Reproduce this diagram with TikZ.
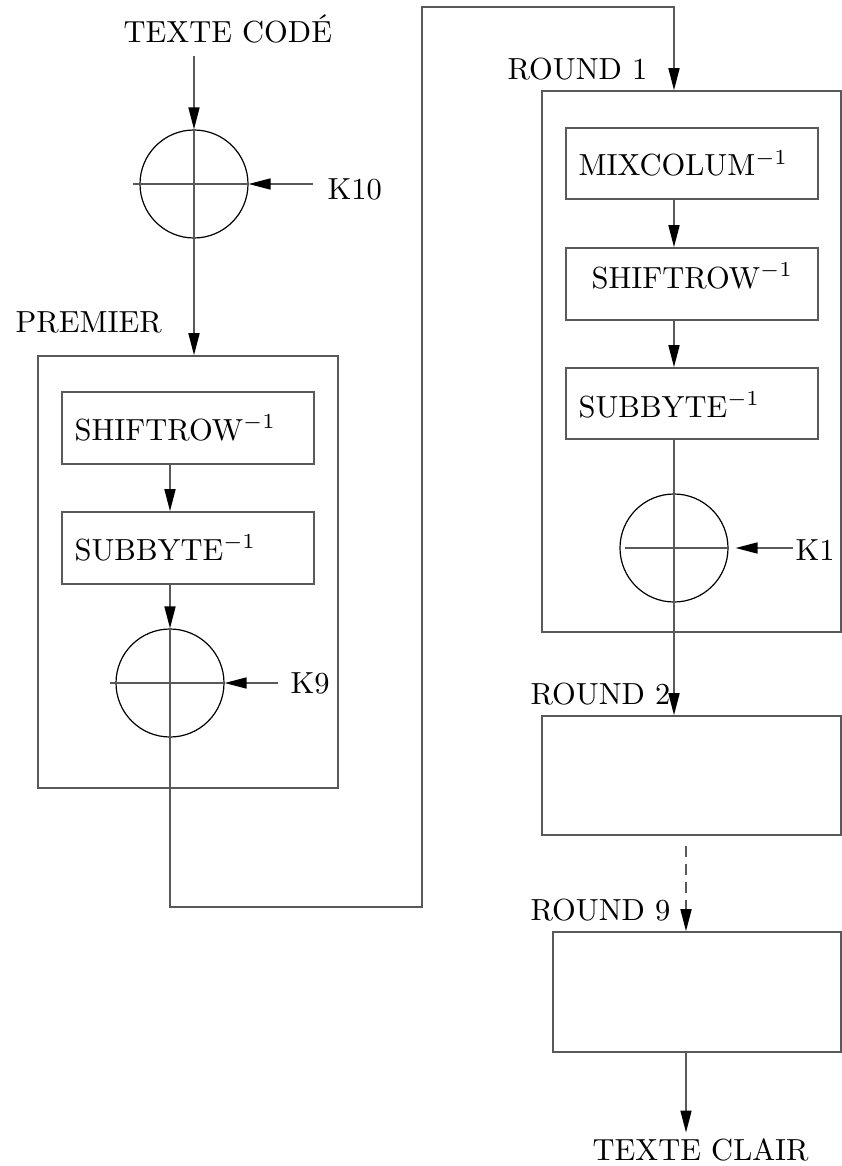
\documentclass[tikz,border=0pt]{standalone}
\usetikzlibrary{arrows.meta}
\definecolor{ln}{gray}{0.35}
\begin{document}
\begin{tikzpicture}[x=1pt,y=-1pt,
  line/.style={draw=ln, line width=1.6pt},
  arr/.style={line, -{Triangle[length=22pt,width=11pt,color=black]}},
  box/.style={draw=ln, line width=1.6pt, rectangle, inner sep=0pt},
  xorc/.style={draw=black, line width=1.2pt, circle, minimum size=108pt, inner sep=0pt},
  lbl/.style={inner sep=0pt, anchor=base west, scale=3.05, font=\rmfamily}]
\useasboundingbox (0,0) rectangle (842,1166);

% circles (XOR)
\node[xorc] (c1) at (194,184) {};
\node[xorc] (c2) at (170,683) {};
\node[xorc] (c3) at (674,548) {};

% boxes
\node[box, minimum width=300pt, minimum height=432pt] (prem) at (188,572) {};
\node[box, minimum width=252pt, minimum height=72pt] (shiftL) at (188,428) {};
\node[box, minimum width=252pt, minimum height=72pt] (subL) at (188,548) {};
\node[box, minimum width=299pt, minimum height=541pt] (r1) at (691.5,361.5) {};
\node[box, minimum width=252pt, minimum height=71pt] (mix) at (692,163.5) {};
\node[box, minimum width=252pt, minimum height=72pt] (shiftR) at (692,284) {};
\node[box, minimum width=252pt, minimum height=71pt] (subR) at (692,403.5) {};
\node[box, minimum width=299pt, minimum height=119pt] (r2) at (691.5,775.5) {};
\node[box, minimum width=288pt, minimum height=120pt] (r9) at (697,992) {};

% labels
\node[lbl] (tcode) at (123,43) {TEXTE CODÉ};
\node[lbl] (k10) at (327,200) {K10};
\node[lbl] (premt) at (15,332) {PREMIER};
\node[lbl] (shiftLt) at (74,440) {SHIFTROW$^{-1}$};
\node[lbl] (subLt) at (74,560) {SUBBYTE$^{-1}$};
\node[lbl] (k9) at (290,693) {K9};
\node[lbl] (r1t) at (507,80) {ROUND 1};
\node[lbl] (mixt) at (578,176) {MIXCOLUM$^{-1}$};
\node[lbl] (shiftRt) at (591,288) {SHIFTROW$^{-1}$};
\node[lbl] (subRt) at (578,417) {SUBBYTE$^{-1}$};
\node[lbl] (k1) at (795,560) {K1};
\node[lbl] (r2t) at (530,704) {ROUND 2};
\node[lbl] (r9t) at (530,920) {ROUND 9};
\node[lbl] (tclair) at (592,1160) {TEXTE CLAIR};

% left column
\draw[arr] ([yshift=-13pt]c1.north |- tcode.base) -- (c1.north);
\draw[arr] (c1.north) -- (c1.north |- prem.north);
\draw[line] ([xshift=-6pt]c1.west) -- (c1.east);
\draw[arr] ([xshift=-14pt]k10.west |- c1.east) -- (c1.east);
\draw[arr] (shiftL.south -| c2.north) -- (subL.north -| c2.north);
\draw[arr] (subL.south -| c2.north) -- (c2.north);
\draw[line] ([xshift=-5pt]c2.west) -- (c2.east);
\draw[arr] ([xshift=-12pt]k9.west |- c2.east) -- (c2.east);

% link to round 1
\coordinate (lo) at (422,907);
\coordinate (hi) at (674,7);
\draw[arr] (c2.north) |- (lo) |- (hi) -- (hi |- r1.north);

% right column
\draw[arr] (mix.south -| c3.north) -- (shiftR.north -| c3.north);
\draw[arr] (shiftR.south -| c3.north) -- (subR.north -| c3.north);
\draw[arr] (subR.south -| c3.north) -- (c3.north |- r2.north);
\draw[line] ([xshift=6pt]c3.west) -- (c3.east);
\draw[arr] ([xshift=-2pt]k1.west |- c3.east) -- ([xshift=7pt]c3.east);

\coordinate (dx) at (686,0);
\draw[arr, dash pattern=on 11pt off 7pt] ([yshift=-10pt]dx |- r2.south) -- (dx |- r9.north);
\draw[arr] (dx |- r9.south) -- ([yshift=5pt]dx |- tclair.north);
\end{tikzpicture}
\end{document}
